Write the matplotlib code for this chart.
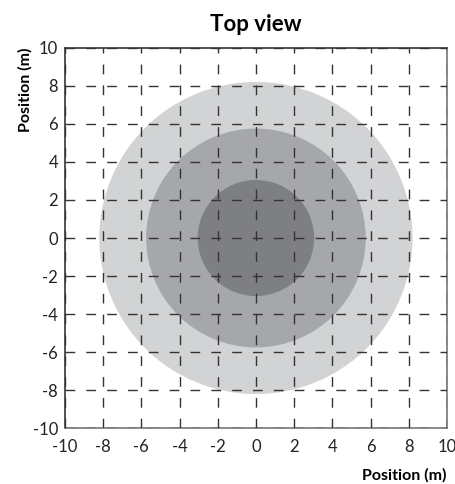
import matplotlib.pyplot as plt
from matplotlib.patches import Circle
import numpy as np

plt.rcParams['font.family'] = ['Lato', 'DejaVu Sans']

# --- Data ---
radii = [8.2, 5.75, 3.05]          # outer, middle, inner (m)
center_x = [0.0, 0.0, 0.0]
center_y = [0.0, 0.0, 0.0]
colors = ['#d2d3d5', '#a6a7aa', '#7e7f82']
ticks = np.arange(-10, 11, 2)

fig = plt.figure(figsize=(4.56, 4.84), dpi=100)
ax = fig.add_axes([0.1425, 0.1151, 0.8375, 0.7863])

for r, cx, cy, c in zip(radii, center_x, center_y, colors):
    ax.add_patch(Circle((cx, cy), r, facecolor=c, edgecolor='none', zorder=1))

ax.set_xlim(-10, 10)
ax.set_ylim(-10, 10)
ax.set_xticks(ticks)
ax.set_yticks(ticks)
ax.set_xticklabels([str(t) for t in ticks])
ax.set_yticklabels([str(t) for t in ticks])
ax.tick_params(length=0, labelsize=12, colors='#222222')
ax.tick_params(axis='x', pad=8)
ax.tick_params(axis='y', pad=5)

ax.grid(True, color='#333333', linestyle=(0, (7, 8)), linewidth=1.0, zorder=2)
ax.set_axisbelow(False)

for side in ['left', 'top']:
    ax.spines[side].set_color('#333333')
    ax.spines[side].set_linewidth(1.2)
for side in ['right', 'bottom']:
    ax.spines[side].set_color('#777777')
    ax.spines[side].set_linewidth(1.2)

ax.set_title('Top view', fontsize=16, fontweight='bold', pad=12)
ax.set_xlabel('Position (m)', fontsize=11.5, fontweight='bold', loc='right', labelpad=9)
ax.set_ylabel('Position (m)', fontsize=11.5, fontweight='bold', loc='top')
ax.yaxis.set_label_coords(-0.085, 1.0)

plt.savefig('out.png', dpi=100)
